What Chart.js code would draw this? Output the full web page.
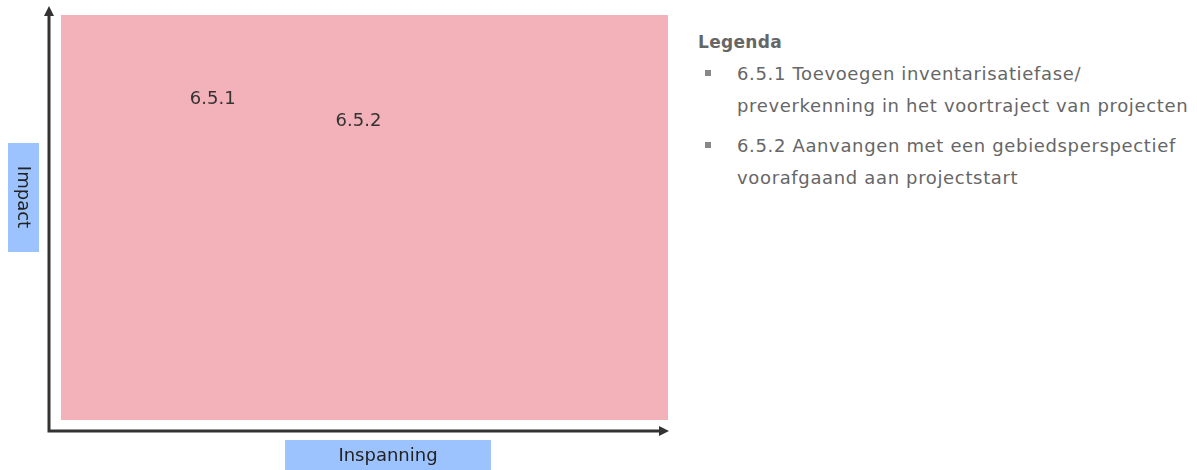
<!DOCTYPE html>
<html>
<head>
<meta charset="utf-8">
<script src="https://cdn.jsdelivr.net/npm/chart.js@4/dist/chart.umd.min.js"></script>
<style>
  html, body { margin: 0; padding: 0; background: #fff; }
  #wrap { position: relative; width: 1197px; height: 470px; }
  #chartBox { position: absolute; left: 0; top: 0; width: 680px; height: 470px; }
  #legend { position: absolute; left: 698px; top: 28px; width: 499px;
            font-family: "DejaVu Sans", sans-serif; font-size: 18px; color: #666;
            letter-spacing: 0.65px; }
  #legend .title { font-weight: bold; font-size: 17px; letter-spacing: 0.3px; line-height: 28px; margin-bottom: 2px; }
  #legend ul { list-style: none; margin: 0; padding: 0; }
  #legend li { position: relative; padding-left: 39px; line-height: 32px; margin-bottom: 8px; }
  #legend li::before { content: ""; position: absolute; left: 7px; top: 12px; width: 6px; height: 6px; background: #888; }
</style>
</head>
<body>
<div id="wrap">
  <div id="chartBox"><canvas id="matrix"></canvas></div>
  <div id="legend">
    <div class="title">Legenda</div>
    <ul id="legendList"></ul>
  </div>
</div>
<script>
'use strict';

/* ── Data ───────────────────────────────────────────── */
const codes       = ['6.5.1', '6.5.2'];
const effort      = [2.5, 4.9];     // Inspanning (x)
const impact      = [7.93, 7.38];   // Impact (y)
const descriptions = [
  'Toevoegen inventarisatiefase/<br>preverkenning in het voortraject van projecten',
  'Aanvangen met een gebiedsperspectief<br>voorafgaand aan projectstart'
];
const xTitle = 'Inspanning';
const yTitle = 'Impact';

/* ── Legend (HTML) ──────────────────────────────────── */
document.getElementById('legendList').innerHTML =
  codes.map((c, i) => '<li>' + c + ' ' + descriptions[i] + '</li>').join('');

/* ── Plugin: pink area, arrows, axis title boxes, labels ─ */
const matrixPlugin = {
  id: 'matrix',
  beforeDatasetsDraw(chart) {
    const { ctx, chartArea: a } = chart;
    ctx.save();
    ctx.fillStyle = '#F3B1BA';
    ctx.fillRect(a.left, a.top, a.right - a.left, a.bottom - a.top);

    // axes with arrowheads
    const ox = a.left - 12, oy = a.bottom + 11;
    ctx.strokeStyle = '#333';
    ctx.fillStyle = '#333';
    ctx.lineWidth = 3;
    ctx.beginPath();
    ctx.moveTo(ox, oy); ctx.lineTo(ox, 14);
    ctx.moveTo(ox - 1.5, oy); ctx.lineTo(a.right - 6, oy);
    ctx.stroke();
    ctx.beginPath();
    ctx.moveTo(ox, 6); ctx.lineTo(ox - 5, 16); ctx.lineTo(ox + 5, 16); ctx.closePath();
    ctx.fill();
    ctx.beginPath();
    ctx.moveTo(a.right + 1, oy); ctx.lineTo(a.right - 9, oy - 5); ctx.lineTo(a.right - 9, oy + 5); ctx.closePath();
    ctx.fill();

    // axis title boxes
    ctx.fillStyle = '#9DC3FF';
    ctx.fillRect(8, 143, 31, 109);
    ctx.fillRect(285, 440, 206, 30);
    ctx.fillStyle = '#222';
    ctx.font = '18px "DejaVu Sans", sans-serif';
    ctx.textAlign = 'center';
    ctx.textBaseline = 'middle';
    ctx.fillText(xTitle, 388, 456);
    ctx.translate(23, 197);
    ctx.rotate(Math.PI / 2);
    ctx.fillText(yTitle, 0, 0);
    ctx.restore();
  },
  afterDatasetsDraw(chart) {
    const { ctx } = chart;
    const meta = chart.getDatasetMeta(0);
    ctx.save();
    ctx.fillStyle = '#333';
    ctx.font = '18px "DejaVu Sans", sans-serif';
    ctx.textAlign = 'center';
    ctx.textBaseline = 'middle';
    meta.data.forEach((pt, i) => ctx.fillText(codes[i], pt.x, pt.y));
    ctx.restore();
  }
};

/* ── Chart ──────────────────────────────────────────── */
new Chart(document.getElementById('matrix'), {
  type: 'scatter',
  data: {
    datasets: [{
      data: effort.map((x, i) => ({ x, y: impact[i] })),
      pointRadius: 0,
      pointHoverRadius: 0
    }]
  },
  options: {
    responsive: true,
    maintainAspectRatio: false,
    animation: false,
    layout: { padding: { left: 61, top: 15, right: 12, bottom: 50 } },
    plugins: { legend: { display: false }, tooltip: { enabled: false } },
    scales: {
      x: { display: false, min: 0, max: 10 },
      y: { display: false, min: 0, max: 10 }
    }
  },
  plugins: [matrixPlugin]
});
</script>
</body>
</html>
